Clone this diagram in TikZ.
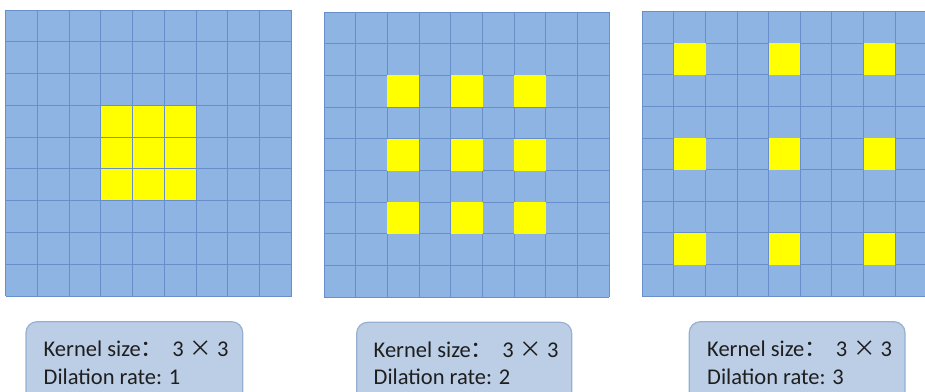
\documentclass[tikz,border=0pt]{standalone}
\usepackage{fontspec}
\setmainfont{Carlito}
\newfontfamily\cjk{Noto Sans CJK SC}
\definecolor{cellblue}{RGB}{142,180,227}
\definecolor{gridline}{RGB}{104,143,201}
\definecolor{boxfill}{RGB}{187,206,230}
\definecolor{boxdraw}{RGB}{150,176,212}
\definecolor{txt}{RGB}{30,30,30}
\tikzset{
  gline/.style={draw=gridline, line width=1pt},
  hot/.style={fill={rgb,255:red,255;green,255;blue,0}},
  labelbox/.style={draw=boxdraw, fill=boxfill, line width=1.2pt, rounded corners=11pt},
  lbl/.style={anchor=base west, inner sep=0pt, text=txt, font=\fontsize{22.5}{27}\selectfont}
}
\newcommand\kernellabel{Kernel size{\cjk ：}\hspace{9pt}3\hspace{6pt}{\cjk ×}\hspace{5pt}3}
\begin{document}
\begin{tikzpicture}[x=1pt,y=-1pt]
\useasboundingbox (0,0) rectangle (925,391);
\clip (0,0) rectangle (925,391);
% grid 1
\begin{scope}[shift={(5.5,10)},x=31.78pt,y=-31.78pt]
  \fill[cellblue] (0,0) rectangle (9,9);
  \fill[hot] (3,3) rectangle (6,6);
  \foreach \i in {0,...,9} {
    \draw[gline] (\i,0) -- (\i,9);
    \draw[gline] (0,\i) -- (9,\i);
  }
\end{scope}
% grid 2
\begin{scope}[shift={(324,12)},x=31.7pt,y=-31.7pt]
  \fill[cellblue] (0,0) rectangle (9,9);
  \foreach \i in {0,...,9} {
    \draw[gline] (\i,0) -- (\i,9);
    \draw[gline] (0,\i) -- (9,\i);
  }
  \foreach \a in {2,4,6} \foreach \b in {2,4,6}
    \fill[hot] (\a,\b) rectangle ++(1,1);
\end{scope}
% grid 3
\begin{scope}[shift={(642.3,11.7)},x=31.6pt,y=-31.6pt]
  \fill[cellblue] (0,0) rectangle (9,9);
  \foreach \i in {0,...,9} {
    \draw[gline] (\i,0) -- (\i,9);
    \draw[gline] (0,\i) -- (9,\i);
  }
  \foreach \a in {1,4,7} \foreach \b in {1,4,7}
    \fill[hot] (\a,\b) rectangle ++(1,1);
\end{scope}
% label boxes
\draw[labelbox] (26,321.7) rectangle (242.7,410);
\draw[labelbox] (356.7,322.3) rectangle (571.7,410);
\draw[labelbox] (689.3,321.7) rectangle (905,410);
\node[lbl] (k1) at (43.5,356.5) {\kernellabel};
\node[lbl] (d1) at (43.5,384.2) {Dilation rate: 1};
\node[lbl] (k2) at (373.5,357) {\kernellabel};
\node[lbl] (d2) at (373.5,384.5) {Dilation rate: 2};
\node[lbl] (k3) at (707,356.5) {\kernellabel};
\node[lbl] (d3) at (707,384.2) {Dilation rate: 3};
\end{tikzpicture}
\end{document}
